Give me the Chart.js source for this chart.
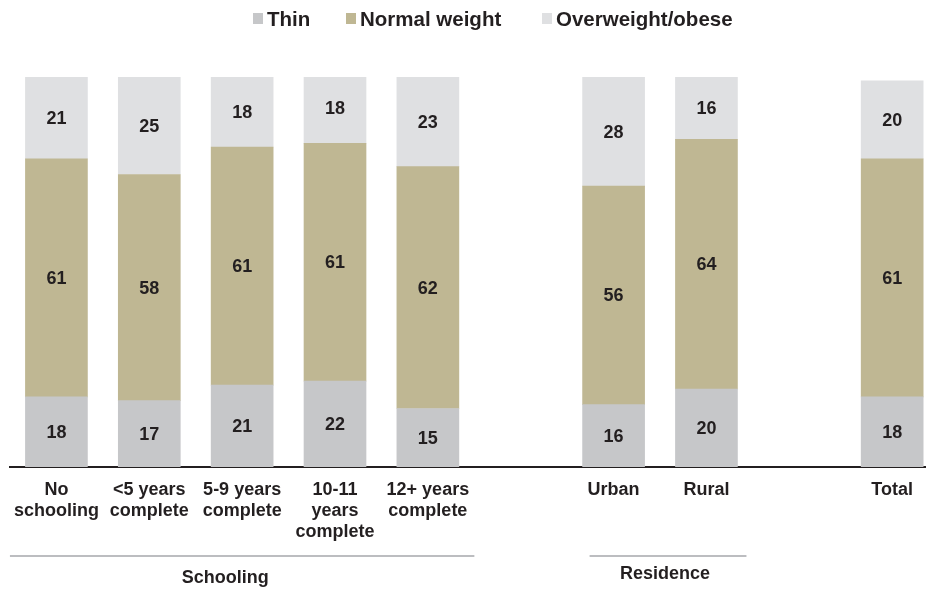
<!DOCTYPE html>
<html>
<head>
<meta charset="utf-8">
<script src="https://cdn.jsdelivr.net/npm/chart.js@4.4.1/dist/chart.umd.min.js"></script>
<style>
  html, body { margin: 0; padding: 0; background: #fff; overflow: hidden; }
  #wrap { width: 926px; height: 589px; position: relative; }
</style>
</head>
<body>
<div id="wrap"><canvas id="c"></canvas></div>
<script>
// Category slots along the x axis; empty strings are spacer slots between groups
const categories = [
  ['No', 'schooling'],
  ['<5 years', 'complete'],
  ['5-9 years', 'complete'],
  ['10-11', 'years', 'complete'],
  ['12+ years', 'complete'],
  '',
  'Urban',
  'Rural',
  '',
  'Total'
];
const seriesNames = ['Thin', 'Normal weight', 'Overweight/obese'];
const thin       = [18, 17, 21, 22, 15, null, 16, 20, null, 18];
const normal     = [61, 58, 61, 61, 62, null, 56, 64, null, 61];
const overweight = [21, 25, 18, 18, 23, null, 28, 16, null, 20];
const groupNames = ['Schooling', 'Residence'];
const groupSlots = [[0, 4], [6, 7]];

const colors = ['#c6c7c9', '#bfb793', '#dfe0e2'];
const textColor = '#231f20';
const FONT = '"Liberation Sans", Arial, Helvetica, sans-serif';

function toPoints(values) {
  return values.map((v, i) => ({ x: i, y: v })).filter(p => p.y !== null);
}

// Value labels centred in each stacked segment
const segmentLabels = {
  id: 'segmentLabels',
  afterDatasetsDraw(chart) {
    const ctx = chart.ctx;
    ctx.save();
    ctx.font = 'bold 18px ' + FONT;
    ctx.fillStyle = textColor;
    ctx.textAlign = 'center';
    ctx.textBaseline = 'middle';
    chart.data.datasets.forEach((ds, di) => {
      const meta = chart.getDatasetMeta(di);
      meta.data.forEach((el, i) => {
        const v = ds.data[i].y;
        ctx.fillText(String(v), el.x, (el.y + el.base) / 2 + 1);
      });
    });
    ctx.restore();
  }
};

// Legend row across the top
const topLegend = {
  id: 'topLegend',
  afterDraw(chart) {
    const ctx = chart.ctx;
    const boxX = [253, 346, 542];
    ctx.save();
    ctx.font = 'bold 20.5px ' + FONT;
    ctx.textBaseline = 'alphabetic';
    ctx.textAlign = 'left';
    chart.data.datasets.forEach((ds, i) => {
      const x = boxX[i];
      ctx.fillStyle = ds.backgroundColor;
      ctx.fillRect(x, 13, 10, 11);
      ctx.fillStyle = textColor;
      ctx.fillText(ds.label, x + 14, 26);
    });
    ctx.restore();
  }
};

// Group rules and captions under the category labels
const groupCaptions = {
  id: 'groupCaptions',
  afterDraw(chart) {
    const ctx = chart.ctx;
    const xs = chart.scales.x;
    const layout = [
      { lineFrom: -46.5, lineTo: 46.5, shift: -17, base: 583 },
      { lineFrom: -24, lineTo: 40, shift: 5, base: 579 }
    ];
    ctx.save();
    groupNames.forEach((name, g) => {
      const [a, b] = groupSlots[g];
      const L = layout[g];
      const x0 = xs.getPixelForValue(a) + L.lineFrom;
      const x1 = xs.getPixelForValue(b) + L.lineTo;
      ctx.strokeStyle = '#bcbdc0';
      ctx.lineWidth = 2;
      ctx.beginPath();
      ctx.moveTo(x0, 556);
      ctx.lineTo(x1, 556);
      ctx.stroke();
      const cx = (xs.getPixelForValue(a) + xs.getPixelForValue(b)) / 2 + L.shift;
      ctx.font = 'bold 18px ' + FONT;
      ctx.fillStyle = textColor;
      ctx.textAlign = 'center';
      ctx.textBaseline = 'alphabetic';
      ctx.fillText(name, cx, L.base);
    });
    ctx.restore();
  }
};

const seriesValues = [thin, normal, overweight];

new Chart(document.getElementById('c'), {
  type: 'bar',
  data: {
    datasets: seriesNames.map((name, i) => ({
      label: name,
      data: toPoints(seriesValues[i]),
      backgroundColor: colors[i],
      borderWidth: 0,
      barThickness: 62
    }))
  },
  options: {
    responsive: true,
    maintainAspectRatio: false,
    animation: false,
    events: [],
    layout: { padding: { top: 77, left: 10, right: 0, bottom: 0 } },
    plugins: {
      legend: { display: false },
      tooltip: { enabled: false }
    },
    scales: {
      x: {
        type: 'linear',
        stacked: true,
        offset: false,
        bounds: 'data',
        min: -0.5,
        max: 9.36,
        afterBuildTicks(axis) {
          axis.ticks = categories.map((_, i) => ({ value: i }));
        },
        afterFit(axis) { axis.height = 122; },
        grid: { display: false, drawTicks: false, offset: false },
        border: { display: true, color: textColor, width: 2 },
        ticks: {
          autoSkip: false,
          maxRotation: 0,
          padding: 13,
          color: textColor,
          font: { family: FONT, size: 18, weight: 'bold', lineHeight: '21px' },
          callback(value) { return categories[value]; }
        }
      },
      y: {
        stacked: true,
        display: false,
        min: 0,
        max: 100
      }
    }
  },
  plugins: [segmentLabels, topLegend, groupCaptions]
});
</script>
</body>
</html>
